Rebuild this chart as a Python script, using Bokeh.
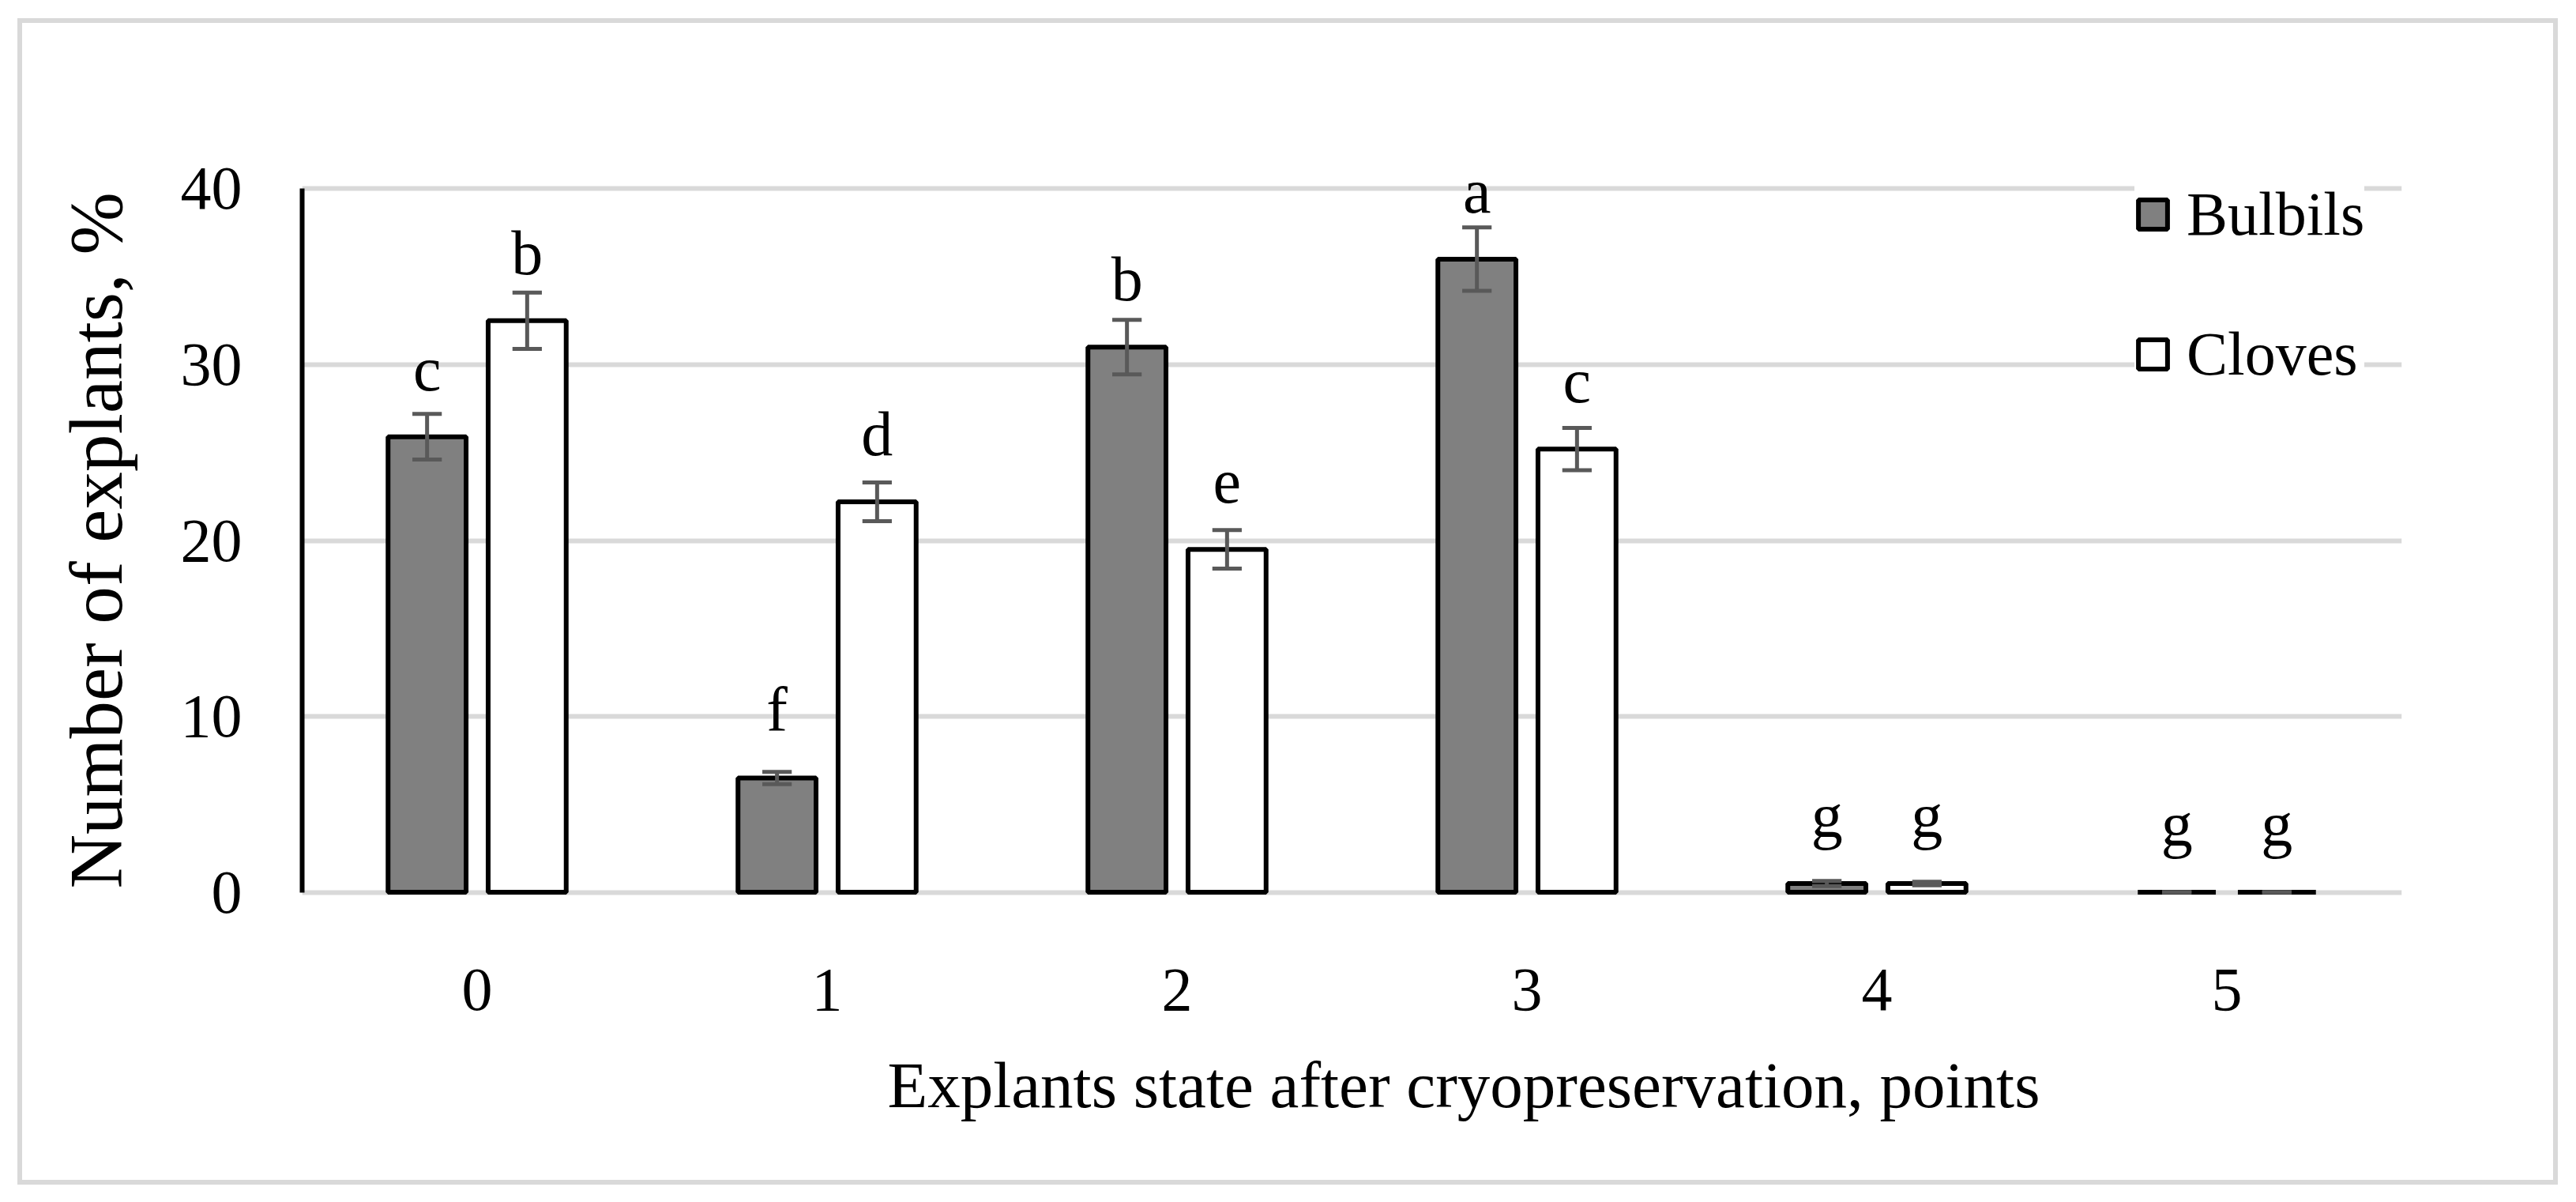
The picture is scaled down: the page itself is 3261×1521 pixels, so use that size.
from bokeh.plotting import figure
from bokeh.models import (ColumnDataSource, FactorRange, Range1d, Legend, LegendItem,
                          Title, FixedTicker)
from bokeh.transform import dodge
from bokeh.core.properties import value
from bokeh.embed import file_html
from bokeh.resources import INLINE

# ---- data ----
categories = ["0", "1", "2", "3", "4", "5"]
bulbils = [25.9, 6.5, 31.0, 36.0, 0.5, 0.0]
bulbils_err = [1.3, 0.35, 1.55, 1.8, 0.15, 0.0]
cloves = [32.5, 22.2, 19.5, 25.2, 0.5, 0.0]
cloves_err = [1.6, 1.1, 1.1, 1.2, 0.1, 0.0]
bulbils_letters = ["c", "f", "b", "a", "g", "g"]
cloves_letters = ["b", "d", "e", "c", "g", "g"]
y_ticks = [0, 10, 20, 30, 40]

FONT = "Liberation Serif"
FS = "78px"

src = ColumnDataSource(dict(
    cat=categories,
    b=bulbils, b_lo=[v - e for v, e in zip(bulbils, bulbils_err)],
    b_hi=[v + e for v, e in zip(bulbils, bulbils_err)], b_lab=bulbils_letters,
    c=cloves, c_lo=[v - e for v, e in zip(cloves, cloves_err)],
    c_hi=[v + e for v, e in zip(cloves, cloves_err)], c_lab=cloves_letters,
))

W, H = 3245, 1505
p = figure(width=W, height=H, x_range=FactorRange(*categories),
           y_range=Range1d(-1.5, 41.5), output_backend="svg",
           toolbar_location=None, min_border_left=382, min_border_right=205,
           min_border_top=205, min_border_bottom=343)
p.outline_line_color = None
p.background_fill_color = "white"
p.border_fill_color = "white"
p.border_fill_alpha = 0.0
p.styles = {"box-shadow": "inset 7.5px 8.5px 0 14.5px #ffffff, inset 7.5px 8.5px 0 20.5px #d9d9d9",
            "background-color": "#ffffff"}

OFF = 0.143
BW = 0.223
CAP = 0.042

rb = p.vbar(x=dodge("cat", -OFF, range=p.x_range), top="b", bottom=0, width=BW,
            source=src, fill_color="#808080", line_color="black", line_width=6)
rc = p.vbar(x=dodge("cat", OFF, range=p.x_range), top="c", bottom=0, width=BW,
            source=src, fill_color="white", line_color="black", line_width=6)

ERR = "#595959"
for off, lo, hi in [(-OFF, "b_lo", "b_hi"), (OFF, "c_lo", "c_hi")]:
    p.segment(x0=dodge("cat", off, range=p.x_range), x1=dodge("cat", off, range=p.x_range),
              y0=lo, y1=hi, source=src, line_color=ERR, line_width=5)
    for yy in (lo, hi):
        p.segment(x0=dodge("cat", off - CAP, range=p.x_range),
                  x1=dodge("cat", off + CAP, range=p.x_range),
                  y0=yy, y1=yy, source=src, line_color=ERR, line_width=5)

for off, top, lab in [(-OFF, "b", "b_lab"), (OFF, "c", "c_lab")]:
    p.text(x=dodge("cat", off, range=p.x_range), y=top, text=lab, source=src,
           y_offset=-86, text_align="center", text_baseline="alphabetic",
           text_font=value(FONT), text_font_size="80px", text_color="black")

# axes
p.yaxis.ticker = FixedTicker(ticks=y_ticks)
p.yaxis.bounds = (0, 40)
p.yaxis.axis_line_color = "black"
p.yaxis.axis_line_width = 6
p.yaxis.major_tick_line_color = None
p.yaxis.minor_tick_line_color = None
p.yaxis.major_tick_out = 0
p.yaxis.major_label_standoff = 76
p.yaxis.major_label_text_font = FONT
p.yaxis.major_label_text_font_size = FS
p.yaxis.major_label_text_color = "black"
p.yaxis.axis_label = "Number of explants, %"
p.yaxis.axis_label_text_font = FONT
p.yaxis.axis_label_text_font_size = "95px"
p.yaxis.axis_label_text_font_style = "normal"
p.yaxis.axis_label_text_color = "black"
p.yaxis.axis_label_standoff = 51

p.xaxis.axis_line_color = None
p.xaxis.major_tick_line_color = None
p.xaxis.minor_tick_line_color = None
p.xaxis.major_tick_out = 0
p.xaxis.major_label_standoff = 64
p.xaxis.major_label_text_font = FONT
p.xaxis.major_label_text_font_size = FS
p.xaxis.major_label_text_color = "black"

p.xgrid.grid_line_color = None
p.ygrid.grid_line_color = "#d9d9d9"
p.ygrid.grid_line_width = 6

xt = Title(text="Explants state after cryopreservation, points", align="left",
           offset=741, text_font=FONT, text_font_size="83px", text_font_style="normal",
           text_color="black", standoff=88)
p.add_layout(xt, "below")

legend = Legend(items=[LegendItem(label="Bulbils", renderers=[rb]),
                       LegendItem(label="Cloves", renderers=[rc])],
                location=(2320, 669), orientation="vertical",
                glyph_width=46, glyph_height=46, label_standoff=20, padding=40,
                spacing=87, background_fill_color="white", background_fill_alpha=1.0,
                border_line_color=None, label_text_font=FONT,
                label_text_font_size=FS, label_text_color="black")
p.add_layout(legend, "center")

open("out.html", "w").write(file_html(p, INLINE))
